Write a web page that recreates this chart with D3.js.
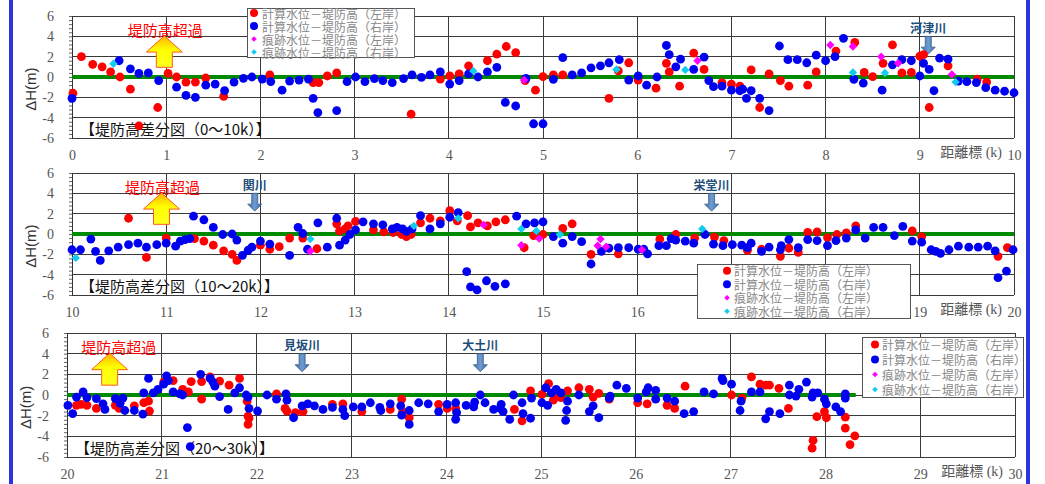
<!DOCTYPE html>
<html>
<head>
<meta charset="utf-8">
<script src="https://cdn.jsdelivr.net/npm/d3@7"></script>
<style>
  body { margin: 0; background: #fff; }
  svg { display: block; }
</style>
</head>
<body>
<svg id="chart" width="1045" height="484"></svg>
<script>
// ΔH = water level − levee crown height [m], by distance marker [km]
// 計算水位－堤防高（左岸）
const calcLeft = [
  [0.01,-1.6],[0.10,2.0],[0.22,1.25],[0.32,1.0],[0.41,0.5],[0.51,0.0],[0.62,-1.2],[0.71,-4.8],[0.91,-3.0],
  [1.02,0.35],[1.11,0.0],[1.21,-0.5],[1.31,-0.5],[1.42,-0.1],[1.61,-1.9],[2.10,0.2],[2.56,-0.55],[2.62,-0.55],
  [2.71,0.1],[2.81,0.4],[3.60,-3.65],[3.91,-0.2],[4.01,0.1],[4.11,0.3],[4.21,1.1],[4.41,1.6],[4.51,2.25],
  [4.61,3.0],[4.71,2.4],[4.81,-0.35],[4.92,-1.3],[5.00,0.03],[5.11,0.2],[5.21,0.2],[5.70,-2.1],[5.80,0.6],
  [5.91,1.4],[6.01,-0.3],[6.20,-1.1],[6.31,1.35],[6.34,0.5],[6.45,-0.9],[6.60,2.35],[6.71,0.75],[6.90,-0.55],
  [7.00,-0.7],[7.09,-0.9],[7.21,0.7],[7.30,-3.0],[7.40,0.3],[7.52,-0.35],[7.61,-0.9],[7.81,-0.8],[7.90,0.5],
  [8.11,2.55],[8.31,3.4],[8.41,0.45],[8.50,0.03],[8.61,1.35],[8.71,3.15],[8.81,0.4],[8.91,0.45],[9.00,2.05],
  [9.04,2.2],[9.10,-3.0],[9.30,1.1],[9.61,-0.2],[9.71,-0.5],
  [10.60,1.55],[10.79,-2.3],[11.0,-0.4],[11.30,-0.45],[11.40,-0.7],[11.50,-1.1],[11.61,-1.65],[11.70,-2.0],
  [11.75,-2.6],[12.0,-1.1],[12.10,-1.5],[12.20,-1.25],[12.31,-0.4],[12.45,-0.4],[12.60,-1.45],[12.81,1.0],
  [12.84,0.3],[12.90,0.5],[12.93,0.8],[13.01,1.25],[13.20,0.4],[13.31,0.2],[13.41,0.15],[13.50,-0.05],
  [13.55,-0.25],[13.60,-0.05],[13.70,1.1],[13.80,1.55],[13.91,1.3],[14.01,2.3],[14.09,1.3],[14.20,1.8],
  [14.23,0.7],[14.31,1.1],[14.41,0.8],[14.50,1.2],[14.60,1.4],[14.80,-1.35],[14.90,-0.15],[15.0,-0.05],
  [15.21,0.55],[15.31,1.0],[15.51,-2.0],[15.80,-1.95],[16.24,-0.5],[16.41,-0.05],[16.61,-0.4],[16.82,-0.3],
  [16.92,-0.65],[17.17,-1.6],[17.32,-1.5],[17.52,-2.2],[17.61,-1.4],[17.71,-1.8],[17.81,0.15],[17.91,0.2],
  [18.02,-0.35],[18.12,-0.05],[18.22,0.1],[18.32,0.8],[18.92,0.3],[19.02,-0.25],[19.83,-2.2],[19.93,-1.35],
  [20.10,-1.0],[20.15,-0.9],[20.21,-1.0],[20.31,-1.3],[20.51,-1.0],[20.55,-1.3],[20.71,-1.05],[20.81,-0.75],
  [20.86,-0.6],[20.87,-1.55],[21.02,1.25],[21.12,1.4],[21.22,0.55],[21.28,0.3],[21.31,1.3],[21.42,-0.4],
  [21.42,1.3],[21.51,1.75],[21.61,1.35],[21.71,0.95],[21.82,1.6],[21.90,-0.6],[21.91,-2.05],[21.92,-2.25],
  [21.91,-2.85],[22.21,0.1],[22.30,-1.3],[22.32,-1.55],[22.41,-1.7],[22.49,-1.6],[22.80,-0.9],[22.91,-0.85],
  [23.11,-1.6],[23.41,-1.4],[23.53,-0.4],[23.54,-1.6],[23.61,-2.2],[23.92,-0.9],[24.01,-1.3],[24.10,-1.3],
  [24.72,-1.4],[24.80,-2.5],[24.89,0.4],[25.01,0.05],[25.08,1.1],[25.13,-0.5],[25.18,0.0],[25.21,-0.25],
  [25.28,0.4],[25.40,0.7],[25.51,0.55],[25.55,-0.2],[25.61,0.15],[25.72,-0.4],[26.02,-0.75],[26.12,-0.85],
  [26.33,-1.0],[26.41,-1.3],[26.52,0.85],[27.01,0.0],[27.12,-0.3],[27.22,1.75],[27.31,1.05],[27.37,0.95],
  [27.41,0.95],[27.51,0.65],[27.61,-1.3],[27.87,-4.4],[27.86,-5.15],[27.91,-2.1],[27.99,-1.6],[28.01,-2.2],
  [28.21,-2.15],[28.21,-3.2],[28.26,-4.8],[28.31,-3.95]
];

// 計算水位－堤防高（右岸）
const calcRight = [
  [0.0,-2.1],[0.50,1.6],[0.62,0.8],[0.71,0.35],[0.81,0.4],[0.92,-0.35],[1.11,-1.0],[1.21,-1.8],[1.31,-2.0],
  [1.42,-0.8],[1.52,-0.7],[1.62,-1.35],[1.72,-0.5],[1.82,-0.13],[1.91,0.0],[2.02,-0.2],[2.11,-0.45],[2.23,-1.3],
  [2.31,-0.4],[2.41,-0.3],[2.51,-0.2],[2.56,-2.1],[2.61,-3.5],[2.81,-3.3],[2.92,-0.45],[3.01,0.0],[3.11,-0.45],
  [3.21,-0.15],[3.30,-0.35],[3.40,-0.55],[3.52,-0.15],[3.61,0.2],[3.71,-0.03],[3.80,0.2],[3.91,0.5],[4.01,-0.7],
  [4.11,-0.35],[4.21,0.3],[4.31,0.0],[4.41,0.5],[4.51,0.95],[4.60,-2.5],[4.71,-2.85],[4.82,-0.13],[4.90,-4.6],
  [5.00,-4.6],[5.11,-0.23],[5.21,1.9],[5.31,0.2],[5.41,0.4],[5.51,0.9],[5.61,1.1],[5.70,1.4],[5.81,1.7],
  [5.91,-0.3],[6.01,0.1],[6.10,-0.8],[6.21,0.0],[6.31,3.1],[6.34,2.2],[6.41,1.0],[6.46,1.75],[6.60,0.75],
  [6.71,1.95],[6.76,-0.35],[6.81,-0.95],[6.90,-0.9],[7.00,-1.3],[7.09,-1.35],[7.12,-1.2],[7.16,-2.1],[7.21,-1.35],
  [7.30,-2.1],[7.40,-3.3],[7.51,3.05],[7.60,1.7],[7.70,1.7],[7.80,1.4],[7.90,2.15],[8.00,1.6],[8.10,2.0],
  [8.19,3.8],[8.30,-0.23],[8.40,-0.6],[8.60,-1.3],[8.71,1.2],[8.81,1.7],[8.91,1.6],[9.00,0.1],[9.04,1.35],
  [9.10,0.75],[9.15,-1.35],[9.21,1.85],[9.30,1.75],[9.41,-0.4],[9.50,-0.45],[9.60,-0.55],[9.70,-1.05],
  [9.80,-1.3],[9.90,-1.4],[10.0,-1.55],
  [10.09,-1.55],[10.20,-0.5],[10.25,-1.7],[10.30,-2.6],[10.39,-1.65],[10.49,-1.3],[10.60,-1.05],[10.70,-0.9],
  [10.79,-1.3],[10.90,-1.05],[11.0,-0.9],[11.10,-1.2],[11.15,-0.7],[11.20,-0.55],[11.25,-0.45],[11.29,1.75],
  [11.40,1.4],[11.50,0.65],[11.60,-0.05],[11.70,0.0],[11.75,-0.6],[11.81,-2.1],[11.87,-1.6],[11.91,-1.3],
  [12.0,-0.7],[12.10,-1.0],[12.31,-2.1],[12.40,0.65],[12.45,0.05],[12.50,-1.5],[12.61,1.1],[12.71,-1.3],
  [12.81,1.55],[12.84,-1.1],[12.90,-0.6],[12.95,-0.05],[13.01,0.4],[13.09,1.2],[13.20,1.0],[13.30,0.9],
  [13.40,0.5],[13.45,0.65],[13.51,0.5],[13.55,0.25],[13.61,0.5],[13.70,1.8],[13.80,0.5],[13.91,1.0],
  [14.01,1.65],[14.10,2.1],[14.19,-3.7],[14.23,-5.2],[14.30,-5.5],[14.40,-4.6],[14.49,-5.15],[14.60,-4.9],
  [14.72,1.75],[14.82,1.0],[14.91,1.1],[15.0,1.2],[15.11,-0.25],[15.21,-0.9],[15.31,-0.25],[15.41,-0.75],
  [15.51,-2.95],[15.62,-1.7],[15.70,-1.4],[15.80,-1.35],[15.91,-1.35],[16.01,-1.5],[16.07,-1.5],[16.11,-1.95],
  [16.23,-1.15],[16.31,-1.15],[16.36,-0.45],[16.41,-0.6],[16.51,-0.7],[16.60,-0.9],[16.72,-0.05],[16.81,-1.0],
  [16.91,-1.15],[17.01,-1.05],[17.11,-1.1],[17.17,-1.35],[17.21,-0.9],[17.32,-1.7],[17.40,-1.3],[17.52,-1.55],
  [17.53,-1.15],[17.61,-0.55],[17.71,-1.35],[17.81,-0.55],[17.91,-0.65],[18.02,-1.15],[18.11,-0.65],[18.22,-0.4],
  [18.32,0.4],[18.42,-0.4],[18.51,0.65],[18.61,0.65],[18.73,-0.15],[18.82,0.75],[18.92,-0.7],[19.02,-0.8],
  [19.12,-1.55],[19.17,-1.7],[19.22,-1.9],[19.31,-1.55],[19.41,-1.2],[19.52,-1.3],[19.62,-1.3],[19.72,-1.2],
  [19.80,-1.65],[19.83,-4.3],[19.92,-3.65],[19.99,-1.55],
  [20.01,-1.0],[20.06,-1.8],[20.10,-0.2],[20.17,0.3],[20.21,-0.25],[20.31,-0.35],[20.38,-0.85],[20.40,-1.4],
  [20.51,-0.35],[20.56,-0.8],[20.59,-0.3],[20.61,-1.5],[20.71,-1.5],[20.80,-1.85],[20.81,0.2],[20.86,1.6],
  [20.91,0.2],[20.96,0.55],[21.02,1.05],[21.05,1.85],[21.07,1.4],[21.12,0.3],[21.19,0.1],[21.22,0.0],
  [21.27,-3.15],[21.30,-5.0],[21.41,2.0],[21.51,1.6],[21.54,1.25],[21.56,0.85],[21.61,-0.15],[21.70,-1.4],
  [21.77,0.2],[21.82,0.7],[21.89,0.0],[21.91,-0.2],[21.92,-1.3],[22.01,-1.55],[22.11,0.0],[22.21,-0.4],
  [22.31,0.1],[22.32,-0.5],[22.39,-2.2],[22.48,-1.05],[22.54,-0.85],[22.61,-1.05],[22.70,-1.4],[22.80,-1.2],
  [22.91,-1.4],[22.93,-2.0],[23.02,-1.15],[23.11,-1.15],[23.20,-0.75],[23.30,-1.2],[23.31,-1.5],[23.41,-0.85],
  [23.52,-1.05],[23.53,-1.95],[23.61,-1.5],[23.61,-2.85],[23.71,-0.75],[23.81,-0.85],[23.92,-1.6],[24.01,-0.9],
  [24.10,-0.75],[24.11,-1.7],[24.10,-2.35],[24.21,-1.0],[24.29,-1.15],[24.30,-0.7],[24.36,0.0],[24.41,-0.75],
  [24.50,-1.4],[24.57,-1.3],[24.58,-0.9],[24.60,-1.6],[24.67,-2.35],[24.71,0.0],[24.80,-0.75],[24.81,-1.8],
  [24.89,-2.25],[24.90,-0.3],[25.01,-0.75],[25.05,0.7],[25.07,-1.0],[25.11,0.2],[25.16,0.55],[25.21,0.2],
  [25.26,-2.45],[25.27,-1.5],[25.28,-0.6],[25.40,0.0],[25.51,-1.6],[25.55,-1.05],[25.61,-2.2],[25.72,-0.3],
  [25.73,-0.1],[25.80,0.95],[25.90,0.65],[26.02,-0.3],[26.11,0.3],[26.13,0.7],[26.21,0.45],[26.21,-0.4],
  [26.33,-0.3],[26.41,-0.6],[26.51,-1.8],[26.61,-1.6],[26.72,0.3],[26.82,0.1],[26.91,1.6],[26.92,1.4],
  [27.01,1.05],[27.11,-0.6],[27.10,-1.5],[27.22,0.3],[27.31,0.3],[27.37,-2.3],[27.41,-1.6],[27.52,-1.8],
  [27.62,0.95],[27.62,0.0],[27.69,-0.1],[27.72,0.55],[27.80,1.25],[27.86,-0.2],[27.87,0.2],[27.92,0.2],
  [27.99,-0.4],[28.01,-0.85],[28.11,-1.15],[28.16,-1.6],[28.21,0.1],[28.21,-0.3]
];

// 痕跡水位－堤防高（左岸）
const traceLeft = [
  [4.80,-0.3],[6.64,1.6],[8.05,3.15],[8.29,3.0],[8.59,2.0],[8.77,1.35],[9.34,0.25],[12.53,-1.7],
  [14.37,0.9],[14.77,-1.1],[14.96,-0.45],[15.58,-1.15],[15.61,-0.5],[15.67,-1.25],[16.05,-1.55]
];

// 痕跡水位－堤防高（右岸）
const traceRight = [
  [0.44,1.3],[4.26,0.6],[5.78,0.75],[6.51,0.7],[8.29,0.45],[8.63,0.4],[9.38,-0.5],[10.04,-2.35],
  [12.53,-0.5],[13.63,0.8],[14.10,1.55],[14.77,0.5],[14.93,0.3],[15.18,-0.05],[16.69,0.5]
];

const sections = [[0, 10], [10, 20], [20, 30]];
const sectionTitles = ["【堤防高差分図（0～10k）】", "【堤防高差分図（10～20k）】", "【堤防高差分図（20～30k）】"];
const zeroLineEnd = [10, 20, 28.32];        // extent of the ΔH = 0 reference line
const yTicks = [-6, -4, -2, 0, 2, 4, 6];
const legendLabels = ["計算水位－堤防高（左岸）", "計算水位－堤防高（右岸）", "痕跡水位－堤防高（左岸）", "痕跡水位－堤防高（右岸）"];
const tributaries = [["河津川", 9.09], ["関川", 11.94], ["栄堂川", 16.79], ["見坂川", 22.48], ["大土川", 24.36]];
const overtopKm = [0.98, 10.95, 20.45];      // "堤防高超過" arrow positions

const seriesStyle = [
  { data: calcLeft,   color: "#ff0000", shape: "circle" },
  { data: calcRight,  color: "#0000f0", shape: "circle" },
  { data: traceLeft,  color: "#ff00ff", shape: "diamond" },
  { data: traceRight, color: "#11ccee", shape: "diamond" }
];

// plot frames for the three stacked panels
const frames = [
  { left: 72, right: 1014, top: 16,  bottom: 138, legend: { x: 247, y: 8,   w: 167, h: 49, pitch: 13,   mx: 7,  tx: 15 } },
  { left: 72, right: 1014, top: 173, bottom: 295, legend: { x: 697, y: 264, w: 213, h: 54, pitch: 13.5, mx: 30, tx: 37 } },
  { left: 67, right: 1015, top: 333, bottom: 457, legend: { x: 862, y: 337, w: 161, h: 60, pitch: 15,   mx: 13, tx: 20 } }
];

const svg = d3.select("#chart");
const serif = "'Liberation Serif', 'Noto Sans CJK JP', serif";
const cjk = "'Noto Sans CJK JP', sans-serif";

// side bars
svg.append("rect").attr("x", 9).attr("y", 0).attr("width", 4).attr("height", 484).attr("fill", "#2a35e0");
svg.append("rect").attr("x", 1026).attr("y", 0).attr("width", 4).attr("height", 484).attr("fill", "#2a35e0");

const defs = svg.append("defs");
const grad = defs.append("linearGradient").attr("id", "upArrow").attr("x1", 0).attr("y1", 0).attr("x2", 0).attr("y2", 1);
grad.append("stop").attr("offset", "0%").attr("stop-color", "#ffb000");
grad.append("stop").attr("offset", "45%").attr("stop-color", "#ffff00");
grad.append("stop").attr("offset", "100%").attr("stop-color", "#ffff20");
const grad2 = defs.append("linearGradient").attr("id", "downArrow").attr("x1", 0).attr("y1", 0).attr("x2", 1).attr("y2", 0);
grad2.append("stop").attr("offset", "0%").attr("stop-color", "#3d6fa8");
grad2.append("stop").attr("offset", "50%").attr("stop-color", "#6f9bd0");
grad2.append("stop").attr("offset", "100%").attr("stop-color", "#3d6fa8");

sections.forEach(([lo, hi], i) => {
  const f = frames[i];
  const L = f.legend;
  const x = d3.scaleLinear().domain([lo, hi]).range([f.left, f.right]);
  const y = d3.scaleLinear().domain([-6, 6]).range([f.bottom, f.top]);
  const g = svg.append("g");

  // grid
  g.append("g").selectAll("line").data(yTicks).join("line")
    .attr("x1", f.left).attr("x2", f.right)
    .attr("y1", d => y(d)).attr("y2", d => y(d))
    .attr("stroke", "#3a3a3a").attr("stroke-width", 1).attr("shape-rendering", "crispEdges");
  g.append("g").selectAll("line").data(d3.range(lo, hi + 1)).join("line")
    .attr("x1", d => x(d)).attr("x2", d => x(d))
    .attr("y1", f.top).attr("y2", f.bottom)
    .attr("stroke", "#3a3a3a").attr("stroke-width", 1).attr("shape-rendering", "crispEdges");

  // y axis labels and minor ticks
  const yAxis = g.append("g").attr("transform", `translate(${f.left},0)`)
    .call(d3.axisLeft(y).tickValues(yTicks).tickSize(0).tickPadding(18).tickFormat(d => String(d)));
  yAxis.select(".domain").remove();
  yAxis.selectAll("text").attr("font-family", serif).attr("font-size", 14).attr("fill", "#555");
  const yMinor = g.append("g").attr("transform", `translate(${f.left},0)`)
    .call(d3.axisLeft(y).tickValues(d3.range(-6, 6.01, 0.4)).tickSize(3).tickFormat(""));
  yMinor.select(".domain").attr("stroke", "#333");
  yMinor.selectAll("line").attr("stroke", "#666");

  // x axis labels (those lying under a legend box stay hidden)
  const legendBelowAxis = L.y + L.h > f.bottom;
  const xTicks = d3.range(lo, hi + 1).filter(d =>
    !(legendBelowAxis && x(d) > L.x - 6 && x(d) < L.x + L.w + 6));
  const xAxis = g.append("g").attr("transform", `translate(0,${f.bottom})`)
    .call(d3.axisBottom(x).tickValues(xTicks).tickSize(0).tickPadding(12).tickFormat(d => String(d)));
  xAxis.select(".domain").remove();
  xAxis.selectAll("text").attr("font-family", serif).attr("font-size", 14).attr("fill", "#555");

  g.append("text").attr("x", f.right - 12).attr("y", f.bottom + 19)
    .attr("text-anchor", "end").attr("font-family", serif).attr("font-size", 14).attr("fill", "#555")
    .text("距離標 (k)");

  // y axis title
  g.append("text")
    .attr("transform", `translate(${f.left - 42},${y(-1.2)}) rotate(-90)`)
    .attr("text-anchor", "middle").attr("dominant-baseline", "central")
    .attr("font-family", "'Liberation Sans', Arial, sans-serif").attr("font-size", 15).attr("fill", "#333")
    .text("ΔH(m)");

  // ΔH = 0 reference line
  g.append("line")
    .attr("x1", x(lo)).attr("x2", x(zeroLineEnd[i]))
    .attr("y1", y(0)).attr("y2", y(0))
    .attr("stroke", "#008a00").attr("stroke-width", 4);

  // panel title
  g.append("text").attr("x", f.left + 8).attr("y", y(-5.1))
    .attr("dominant-baseline", "central").attr("font-family", cjk).attr("font-size", 15).attr("fill", "#111")
    .text(sectionTitles[i]);

  // overtopping annotation
  const ax = x(overtopKm[i]);
  const tip = y(4.05), neck = y(2.45), base = y(0.95);
  g.append("path")
    .attr("d", `M${ax},${tip} L${ax + 18},${neck} L${ax + 8},${neck} L${ax + 8},${base} L${ax - 8},${base} L${ax - 8},${neck} L${ax - 18},${neck} Z`)
    .attr("fill", "url(#upArrow)").attr("stroke", "#ff5a20").attr("stroke-width", 1);
  g.append("text").attr("x", ax + (i === 2 ? 9 : 1)).attr("y", y(4.65))
    .attr("text-anchor", "middle").attr("dominant-baseline", "central")
    .attr("font-family", cjk).attr("font-size", 15).attr("fill", "#ff0000")
    .text("堤防高超過");

  // tributary confluences
  tributaries.filter(t => t[1] >= lo && t[1] <= hi).forEach(([name, km]) => {
    const cx = x(km), t0 = y(4.0), t1 = y(2.25);
    g.append("text").attr("x", cx).attr("y", y(4.85))
      .attr("text-anchor", "middle").attr("dominant-baseline", "central")
      .attr("font-family", cjk).attr("font-weight", "bold").attr("font-size", 12).attr("fill", "#1f4e79")
      .text(name);
    g.append("path")
      .attr("d", `M${cx - 3},${t0} L${cx + 3},${t0} L${cx + 3},${t1 - 7} L${cx + 7},${t1 - 7} L${cx},${t1} L${cx - 7},${t1 - 7} L${cx - 3},${t1 - 7} Z`)
      .attr("fill", "url(#downArrow)").attr("stroke", "#385d8a").attr("stroke-width", 0.8);
  });

  // markers
  seriesStyle.forEach(s => {
    const pts = s.data.filter(d => d[0] >= lo && d[0] <= hi);
    if (s.shape === "circle") {
      g.append("g").selectAll("circle").data(pts).join("circle")
        .attr("cx", d => x(d[0])).attr("cy", d => y(d[1])).attr("r", 4.4)
        .attr("fill", s.color);
    } else {
      g.append("g").selectAll("path").data(pts).join("path")
        .attr("d", d => `M${x(d[0])},${y(d[1]) - 4.2} l4.2,4.2 l-4.2,4.2 l-4.2,-4.2 Z`)
        .attr("fill", s.color);
    }
  });

  // legend
  const lg = g.append("g").attr("transform", `translate(${L.x},${L.y})`);
  lg.append("rect").attr("width", L.w).attr("height", L.h)
    .attr("fill", "#fff").attr("stroke", "#555").attr("stroke-width", 1).attr("shape-rendering", "crispEdges");
  legendLabels.forEach((lab, k) => {
    const cy = L.h / 2 + (k - 1.5) * L.pitch;
    const s = seriesStyle[k];
    if (s.shape === "circle") {
      lg.append("circle").attr("cx", L.mx).attr("cy", cy).attr("r", 4).attr("fill", s.color);
    } else {
      lg.append("path").attr("d", `M${L.mx},${cy - 2.8} l2.8,2.8 l-2.8,2.8 l-2.8,-2.8 Z`).attr("fill", s.color);
    }
    lg.append("text").attr("x", L.tx).attr("y", cy)
      .attr("dominant-baseline", "central").attr("font-family", cjk).attr("font-size", 12)
      .attr("fill", "#888").text(lab);
  });
});
</script>
</body>
</html>
